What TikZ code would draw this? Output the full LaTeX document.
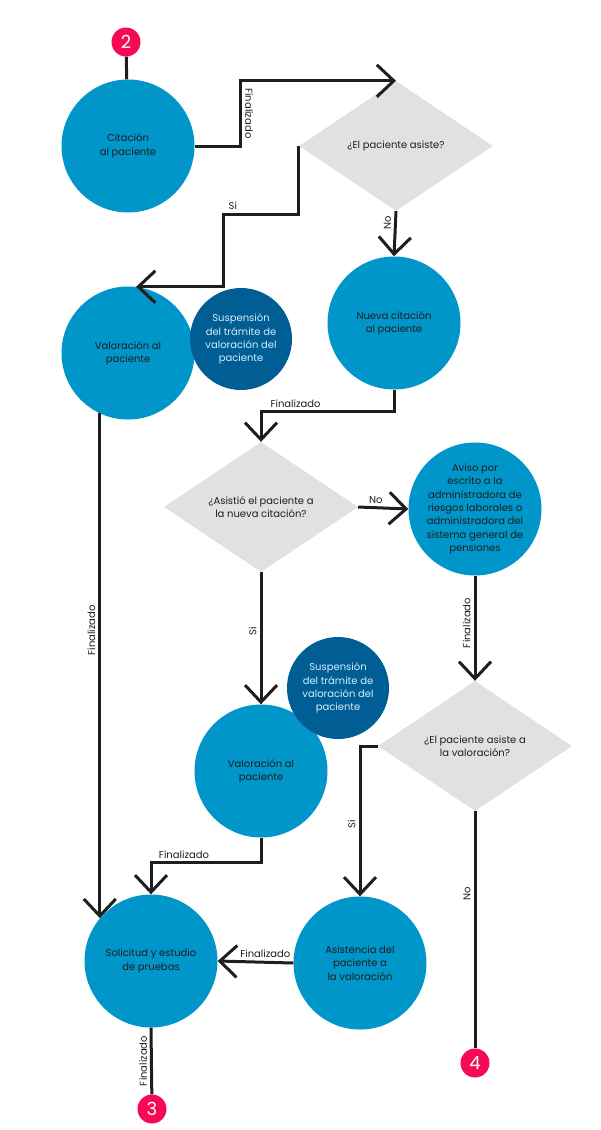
\documentclass[tikz,border=0pt]{standalone}
\usepackage{fontspec}
\setmainfont{Poppins}
\usetikzlibrary{shapes.geometric,arrows.meta}
\definecolor{procblue}{HTML}{0096C9}
\definecolor{haltblue}{HTML}{005E94}
\definecolor{querygray}{HTML}{E1E1E1}
\definecolor{linkred}{HTML}{F50A55}
\definecolor{inktext}{HTML}{1E1E1E}
\definecolor{halttext}{HTML}{D4EEFA}
\begin{document}
\begin{tikzpicture}[
        x=1pt, y=-1pt,
        proc/.style={circle, fill=procblue, minimum size=133pt, inner sep=0pt, align=center, text=inktext, font=\fontsize{10}{13.3}\selectfont},
        halt/.style={circle, fill=haltblue, minimum size=102pt, inner sep=0pt, align=center, text=halttext, font=\fontsize{10}{13.3}\selectfont},
        query/.style={diamond, aspect=1.5, fill=querygray, minimum width=194pt, minimum height=130pt, inner sep=0pt, align=center, text=inktext, font=\fontsize{10}{13.3}\selectfont},
        link/.style={circle, fill=linkred, minimum size=29pt, inner sep=0pt, text=white, font=\fontsize{18}{18}\selectfont},
        line/.style={line width=3pt, draw=inktext},
        arrow/.style={line, -{Straight Barb[length=17pt, width=32pt, line width=3pt]}},
        lbl/.style={font=\fontsize{10}{11}\selectfont, text=inktext, inner sep=3pt},
        vlbl/.style={lbl, rotate=90, anchor=south}
    ]
        \useasboundingbox (0,0) rectangle (600,1130);

        \node[link] (two) at (126,42) {2};
        \node[proc] (cita) at (128,146) {Citación\\al paciente};
        \node[query] (asiste) at (396,146) {¿El paciente asiste?};

        \node[proc] (valA) at (128,353) {Valoración al\\paciente};
        \node[halt] (suspA) at (241,339) {Suspensión\\del trámite de\\valoración del\\paciente};
        \node[proc] (nueva) at (394,323) {Nueva citación\\al paciente};

        \node[query] (asistio) at (261,507) {¿Asistió el paciente a\\la nueva citación?};
        \node[proc] (aviso) at (475,509) {Aviso por\\escrito a la\\administradora de\\riesgos laborales o\\administradora del\\sistema general de\\pensiones};

        \node[query] (asisteVal) at (475,746) {¿El paciente asiste a\\la valoración?};
        \node[proc] (valB) at (261,771) {Valoración al\\paciente};
        \node[halt] (suspB) at (338,688) {Suspensión\\del trámite de\\valoración del\\paciente};

        \node[proc] (solicitud) at (151,961) {Solicitud y estudio\\de pruebas};
        \node[proc] (asistencia) at (360,963) {Asistencia del\\paciente a\\la valoración};
        \node[link] (three) at (152,1109) {3};
        \node[link] (four) at (475,1063) {4};

        \draw[line] (two) -- (cita);
        \draw[arrow] (cita.east) -- ++(46,0) |- node[lbl, rotate=-90, anchor=south, pos=0.25] {Finalizado} (asiste.north);
        \draw[arrow] (asiste.west) -- ++(0,68) -- node[lbl, above, pos=0.88] {Si} ++(-75,0) |- (valA.83);
        \draw[arrow] (asiste.south) -- node[vlbl, pos=0.26] {No} (nueva.north);
        \draw[arrow] (nueva.south) -- ++(0,22) -| node[lbl, above, pos=0.37] {Finalizado} (asistio.north);
        \draw[arrow] (asistio.east) -- node[lbl, above, pos=0.35] {No} (aviso.west);
        \draw[arrow] (asistio.south) -- node[vlbl, pos=0.45] {Si} (valB.north);
        \draw[arrow] (aviso.south) -- node[vlbl, pos=0.45] {Finalizado} (asisteVal.north);
        \draw[arrow] (asisteVal.west) -| node[vlbl, pos=0.76] {Si} (asistencia.north);
        \draw[line] (asisteVal.south) -- node[vlbl, pos=0.35] {No} (four);
        \draw[arrow] (valB.south) -- ++(0,25) -| node[lbl, above, pos=0.35] {Finalizado} (solicitud.north);
        \draw[arrow] (valA.245) -- node[vlbl, pos=0.43] {Finalizado} (valA.245 |- solicitud.140);
        \draw[arrow] (asistencia.west) -- node[lbl, above, pos=0.37] {Finalizado} (solicitud.east);
        \draw[line] (solicitud.south) -- node[vlbl] {Finalizado} (three);
    \end{tikzpicture}
\end{document}
